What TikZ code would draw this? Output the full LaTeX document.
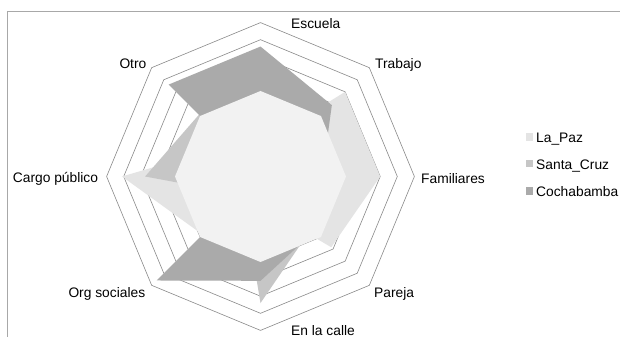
\documentclass[tikz,border=0pt]{standalone}
\usepackage{fontspec}
\setmainfont{Liberation Sans}
\definecolor{lapaz}{HTML}{E4E4E4}
\definecolor{santa}{HTML}{C6C6C6}
\definecolor{cocha}{HTML}{AAAAAA}
\definecolor{inner}{HTML}{F2F2F2}
\definecolor{gridc}{HTML}{8A8A8A}
\definecolor{framec}{HTML}{A8A8A8}
\tikzset{
  ring/.style={draw=gridc, line width=0.6pt},
  lbl/.style={anchor=base west, inner sep=0pt, font=\fontsize{13.8}{16}\selectfont},
  swatch/.style={inner sep=0pt, minimum size=7.4pt, draw=none}
}
\begin{document}
\begin{tikzpicture}[x=1pt,y=1pt]
\useasboundingbox (0,0) rectangle (620,337);
\fill[white] (0,0) rectangle (620,337);
% frame
\draw[framec, line width=0.7pt] (620,326) -- (7,326) -- (7,0);
\begin{scope}[shift={(260.5pt,160.5pt)}, x=17.1pt, y=17.1pt]
  \foreach \r in {1,...,9}
    \draw[ring] (0:\r) -- (45:\r) -- (90:\r) -- (135:\r) -- (180:\r) -- (225:\r) -- (270:\r) -- (315:\r) -- cycle;
  % La_Paz
  \fill[lapaz] (90:1.9) -- (45:7) -- (0:7) -- (-45:5.85) -- (-90:1.7) -- (-135:4.8) -- (180:8.1) -- (135:2.6) -- cycle;
  % Santa_Cruz
  \fill[santa] (90:4) -- (45:3) -- (0:3) -- (-45:4.25) -- (-90:7.4) -- (-135:1.5) -- (180:6.75) -- (135:5.1) -- cycle;
  % Cochabamba
  \fill[cocha] (90:7.6) -- (45:5.9) -- (0:3.6) -- (-45:4.5) -- (-90:6.1) -- (-135:8.6) -- (0,0) -- (135:7.6) -- cycle;
  % inner series
  \fill[inner] (0:5) -- (45:5) -- (90:5) -- (135:5) -- (180:5) -- (225:5) -- (270:5) -- (315:5) -- cycle;
\end{scope}
% axis labels
\node[lbl] (escuela) at (291,308) {Escuela};
\node[lbl] (trabajo) at (375,268) {Trabajo};
\node[lbl] (otro) at (119.3,268) {Otro};
\node[lbl] (familiares) at (421,153.5) {Familiares};
\node[lbl] (cargo) at (12.7,154) {Cargo público};
\node[lbl] (org) at (68.3,39.5) {Org sociales};
\node[lbl] (pareja) at (374,40) {Pareja};
\node[lbl] (calle) at (291,2) {En la calle};
% legend
\node[swatch, fill=lapaz] (swlp) at (529.7,200) {};
\node[swatch, fill=santa] (swsc) at (529.7,173.3) {};
\node[swatch, fill=cocha] (swcb) at (529.7,146) {};
\node[lbl] (lglp) at (536,194.3) {La\_Paz};
\node[lbl] (lgsc) at (536,167) {Santa\_Cruz};
\node[lbl] (lgcb) at (536,140) {Cochabamba};
\end{tikzpicture}
\end{document}
